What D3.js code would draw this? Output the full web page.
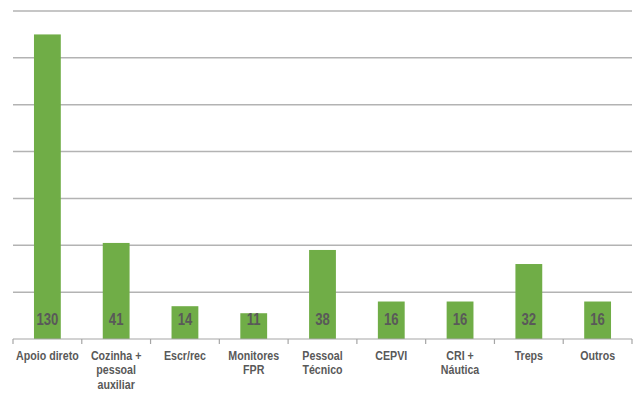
<!DOCTYPE html>
<html>
<head>
<meta charset="utf-8">
<script src="https://cdn.jsdelivr.net/npm/d3@7"></script>
<style>
  html, body { margin: 0; padding: 0; background: #fff; }
  svg { display: block; }
</style>
</head>
<body>
<svg id="chart" width="643" height="395"></svg>
<script>
// Staff headcount by area
const categories = [
  ["Apoio direto"],
  ["Cozinha +", "pessoal", "auxiliar"],
  ["Escr/rec"],
  ["Monitores", "FPR"],
  ["Pessoal", "Técnico"],
  ["CEPVI"],
  ["CRI +", "Náutica"],
  ["Treps"],
  ["Outros"]
];
const values = [130, 41, 14, 11, 38, 16, 16, 32, 16];
const gridTicks = [0, 20, 40, 60, 80, 100, 120, 140];

const svg = d3.select("#chart");
const margin = { left: 13, right: 11, top: 11, bottom: 56 };
const W = 643, H = 395;
const font = "'Liberation Sans', Arial, sans-serif";
const narrow = 0.82; // horizontal squeeze for a narrow face

const x = d3.scaleBand()
  .domain(d3.range(categories.length))
  .range([margin.left, W - margin.right])
  .paddingInner(0.61)
  .paddingOuter(0.305);

const y = d3.scaleLinear()
  .domain([0, 140])
  .range([H - margin.bottom, margin.top]);

// horizontal gridlines
svg.append("g")
  .selectAll("line")
  .data(gridTicks.slice(1))
  .join("line")
  .attr("x1", margin.left)
  .attr("x2", W - margin.right)
  .attr("y1", d => y(d))
  .attr("y2", d => y(d))
  .attr("stroke", "#b3b3b3")
  .attr("stroke-width", 1.5);

// bars
svg.append("g")
  .selectAll("rect")
  .data(values)
  .join("rect")
  .attr("x", (d, i) => x(i))
  .attr("width", x.bandwidth())
  .attr("y", d => y(d))
  .attr("height", d => y(0) - y(d))
  .attr("fill", "#70ad47");

// category axis with ticks on band boundaries
const step = x.step();
const axisG = svg.append("g");
axisG.append("line")
  .attr("x1", margin.left)
  .attr("x2", W - margin.right)
  .attr("y1", y(0))
  .attr("y2", y(0))
  .attr("stroke", "#a6a6a6")
  .attr("stroke-width", 1.2);
axisG.selectAll("line.tick")
  .data(d3.range(categories.length + 1))
  .join("line")
  .attr("class", "tick")
  .attr("x1", i => margin.left + i * step)
  .attr("x2", i => margin.left + i * step)
  .attr("y1", y(0))
  .attr("y2", y(0) + 5)
  .attr("stroke", "#a6a6a6")
  .attr("stroke-width", 1.2);

// value labels inside bars
svg.append("g")
  .selectAll("g")
  .data(values)
  .join("g")
  .attr("transform", (d, i) => `translate(${x(i) + x.bandwidth() / 2},${y(0) - 14.5}) scale(${narrow},1)`)
  .append("text")
  .attr("text-anchor", "middle")
  .attr("font-family", font)
  .attr("font-weight", "bold")
  .attr("font-size", 16)
  .attr("fill", "#595959")
  .text(d => d);

// category labels
const labels = svg.append("g")
  .selectAll("g")
  .data(categories)
  .join("g")
  .attr("transform", (d, i) => `translate(${x(i) + x.bandwidth() / 2},${y(0) + 21}) scale(${narrow},1)`)
  .append("text")
  .attr("text-anchor", "middle")
  .attr("font-family", font)
  .attr("font-weight", "bold")
  .attr("font-size", 13)
  .attr("fill", "#595959");
labels.each(function(lines) {
  const t = d3.select(this);
  lines.forEach((ln, k) => {
    t.append("tspan")
      .attr("x", 0)
      .attr("y", k * 14.5)
      .text(ln);
  });
});
</script>
</body>
</html>
